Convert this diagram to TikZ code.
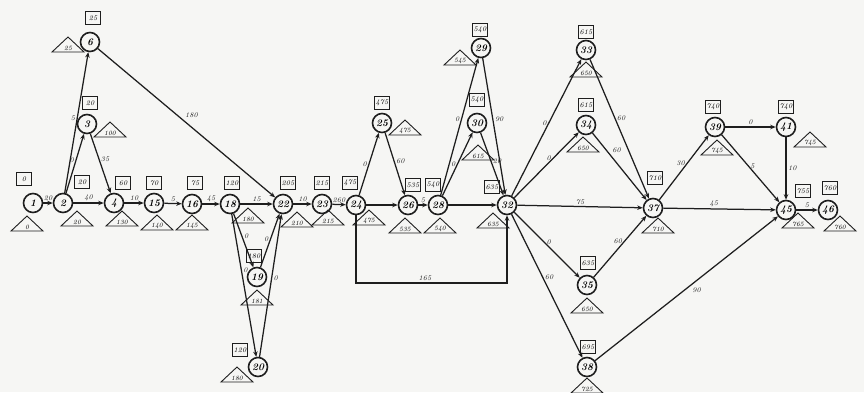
\documentclass[tikz,border=0pt]{standalone}
\usetikzlibrary{arrows.meta}
\definecolor{ink}{HTML}{1E1E1E}
\definecolor{paper}{HTML}{F6F6F4}
\tikzset{
  x=1pt, y=-1pt,
  ev/.style={circle, draw=ink, line width=1.6pt, minimum size=19pt, inner sep=0pt,
             font=\fontsize{10}{10}\selectfont\bfseries\itshape},
  es/.style={rectangle, draw=ink, line width=0.8pt, minimum width=15pt, minimum height=13pt,
             inner sep=1pt, font=\fontsize{7}{7}\selectfont\itshape},
  trib/.style={draw=ink, line width=0.9pt},
  tritext/.style={inner sep=0pt, font=\fontsize{6.5}{6.5}\selectfont\itshape},
  act/.style={draw=ink, line width=1.25pt, -{Stealth[length=5.5pt,width=4.5pt]}},
  lbl/.style={inner sep=1.5pt, font=\fontsize{7}{7}\selectfont\itshape, text=ink},
}
% latest-start triangle: name, x, y, value
\newcommand{\lstri}[4]{%
  \draw[trib] (#2,#3) ++(-16,5) -- ++(16,-15) -- ++(16,15) -- cycle;
  \node[tritext] (#1) at (#2,#3+1) {#4};}
\begin{document}
\begin{tikzpicture}
\fill[paper] (0,0) rectangle (864,392);
\useasboundingbox (0,0) rectangle (864,392);

% events
\node[ev] (n1)  at (33,203)  {1};
\node[ev] (n2)  at (63,203)  {2};
\node[ev] (n3)  at (87,124)  {3};
\node[ev] (n6)  at (90,42)   {6};
\node[ev] (n4)  at (114,203) {4};
\node[ev] (n15) at (154,203) {15};
\node[ev] (n16) at (192,204) {16};
\node[ev] (n18) at (230,204) {18};
\node[ev] (n22) at (283,204) {22};
\node[ev] (n23) at (322,204) {23};
\node[ev] (n24) at (356,205) {24};
\node[ev] (n19) at (257,277) {19};
\node[ev] (n20) at (258,367) {20};
\node[ev] (n25) at (382,123) {25};
\node[ev] (n26) at (408,205) {26};
\node[ev] (n28) at (438,205) {28};
\node[ev] (n29) at (481,48)  {29};
\node[ev] (n30) at (477,123) {30};
\node[ev] (n32) at (507,205) {32};
\node[ev] (n33) at (586,50)  {33};
\node[ev] (n34) at (586,125) {34};
\node[ev] (n37) at (653,208) {37};
\node[ev] (n35) at (587,285) {35};
\node[ev] (n38) at (587,367) {38};
\node[ev] (n39) at (715,127) {39};
\node[ev] (n41) at (786,127) {41};
\node[ev] (n45) at (786,210) {45};
\node[ev] (n46) at (828,210) {46};

% earliest-start boxes
\node[es] (e1)  at (24,179)  {0};
\node[es] (e2)  at (82,182)  {20};
\node[es] (e3)  at (90,103)  {20};
\node[es] (e6)  at (93,18)   {25};
\node[es] (e4)  at (123,183) {60};
\node[es] (e15) at (154,183) {70};
\node[es] (e16) at (195,183) {75};
\node[es] (e18) at (232,183) {120};
\node[es] (e22) at (288,183) {205};
\node[es] (e23) at (322,183) {215};
\node[es] (e24) at (350,183) {475};
\node[es] (e19) at (254,256) {180};
\node[es] (e20) at (240,350) {120};
\node[es] (e25) at (382,103) {475};
\node[es] (e26) at (413,185) {535};
\node[es] (e28) at (433,185) {540};
\node[es] (e29) at (480,30)  {540};
\node[es] (e30) at (477,100) {540};
\node[es] (e32) at (492,187) {635};
\node[es] (e33) at (586,32)  {615};
\node[es] (e34) at (586,105) {615};
\node[es] (e37) at (655,178) {710};
\node[es] (e35) at (588,263) {635};
\node[es] (e38) at (588,347) {695};
\node[es] (e39) at (713,107) {740};
\node[es] (e41) at (786,107) {740};
\node[es] (e45) at (803,191) {755};
\node[es] (e46) at (830,188) {760};

% latest-start triangles
\lstri{l1}{27}{226}{0}
\lstri{l2}{77}{221}{20}
\lstri{l3}{110}{132}{100}
\lstri{l6}{68}{47}{25}
\lstri{l4}{122}{221}{130}
\lstri{l15}{157}{225}{140}
\lstri{l16}{192}{225}{145}
\lstri{l18}{248}{218}{180}
\lstri{l22}{297}{222}{210}
\lstri{l23}{328}{220}{215}
\lstri{l24}{369}{220}{475}
\lstri{l19}{257}{300}{181}
\lstri{l20}{237}{377}{180}
\lstri{l25}{405}{130}{475}
\lstri{l26}{405}{228}{535}
\lstri{l28}{440}{228}{540}
\lstri{l29}{460}{60}{545}
\lstri{l30}{478}{155}{615}
\lstri{l32}{493}{223}{635}
\lstri{l33}{586}{72}{650}
\lstri{l34}{583}{147}{650}
\lstri{l35}{587}{308}{650}
\lstri{l37}{658}{228}{710}
\lstri{l38}{587}{388}{725}
\lstri{l39}{717}{150}{745}
\lstri{l41}{810}{142}{745}
\lstri{l45}{798}{223}{765}
\lstri{l46}{840}{226}{760}

% activities
\draw[act] (n1) -- node[lbl, above] {20} (n2);
\draw[act] (n2) -- node[lbl, above] {40} (n4);
\draw[act] (n2) -- node[lbl, left, pos=0.55] {0} (n3);
\draw[act] (n2) -- node[lbl, left, pos=0.53] {5} (n6);
\draw[act] (n3) -- node[lbl, right, pos=0.42] {35} (n4);
\draw[act] (n4) -- node[lbl, above] {10} (n15);
\draw[act] (n15) -- node[lbl, above] {5} (n16);
\draw[act] (n16) -- node[lbl, above] {45} (n18);
\draw[act] (n6) -- node[lbl, above right, pos=0.48] {180} (n22);
\draw[act] (n18) -- node[lbl, above] {15} (n22);
\draw[act] (n18) -- node[lbl, right, pos=0.42] {0} (n19);
\draw[act] (n18) -- node[lbl, right, pos=0.39] {0} (n20);
\draw[act] (n19) -- node[lbl, left, pos=0.53] {0} (n22);
\draw[act] (n20) -- node[lbl, right, pos=0.55] {0} (n22);
\draw[act] (n22) -- node[lbl, above] {10} (n23);
\draw[act] (n23) -- node[lbl, above] {260} (n24);
\draw[act] (n24) -- node[lbl, left, pos=0.5] {0} (n25);
\draw[act] (n25) -- node[lbl, right, pos=0.45] {60} (n26);
\draw[act] (n24) -- (n26);
\draw[act] (n26) -- node[lbl, above] {5} (n28);
\draw[act] (n28) -- node[lbl, left, pos=0.55] {0} (n29);
\draw[act] (n28) -- node[lbl, left, pos=0.5] {0} (n30);
\draw[act] (n29) -- node[lbl, right, pos=0.45] {90} (n32);
\draw[act] (n30) -- node[lbl, right, pos=0.45] {20} (n32);
\draw[act] (n28) -- (n32);
\coordinate (loop) at (425,283);
\draw[act] (n24) |- (loop) node[lbl, above] {165} -| (n32);
\draw[act] (n32) -- node[lbl, left, pos=0.53] {0} (n33);
\draw[act] (n32) -- node[lbl, left, pos=0.6] {0} (n34);
\draw[act] (n33) -- node[lbl, right, pos=0.42] {60} (n37);
\draw[act] (n34) -- node[lbl, above right, pos=0.33] {60} (n37);
\draw[act] (n32) -- node[lbl, above] {75} (n37);
\draw[act] (n32) -- node[lbl, right, pos=0.46] {0} (n35);
\draw[act] (n32) -- node[lbl, right, pos=0.44] {60} (n38);
\draw[act] (n35) -- node[lbl, left, pos=0.58] {60} (n37);
\draw[act] (n37) -- node[lbl, left, pos=0.56] {30} (n39);
\draw[act] (n39) -- node[lbl, above] {0} (n41);
\draw[act] (n39) -- node[lbl, right, pos=0.46] {5} (n45);
\draw[act] (n41) -- node[lbl, right] {10} (n45);
\draw[act] (n37) -- node[lbl, above, pos=0.45] {45} (n45);
\draw[act] (n38) -- node[lbl, below right, pos=0.52] {90} (n45);
\draw[act] (n45) -- node[lbl, above] {5} (n46);
\end{tikzpicture}
\end{document}
